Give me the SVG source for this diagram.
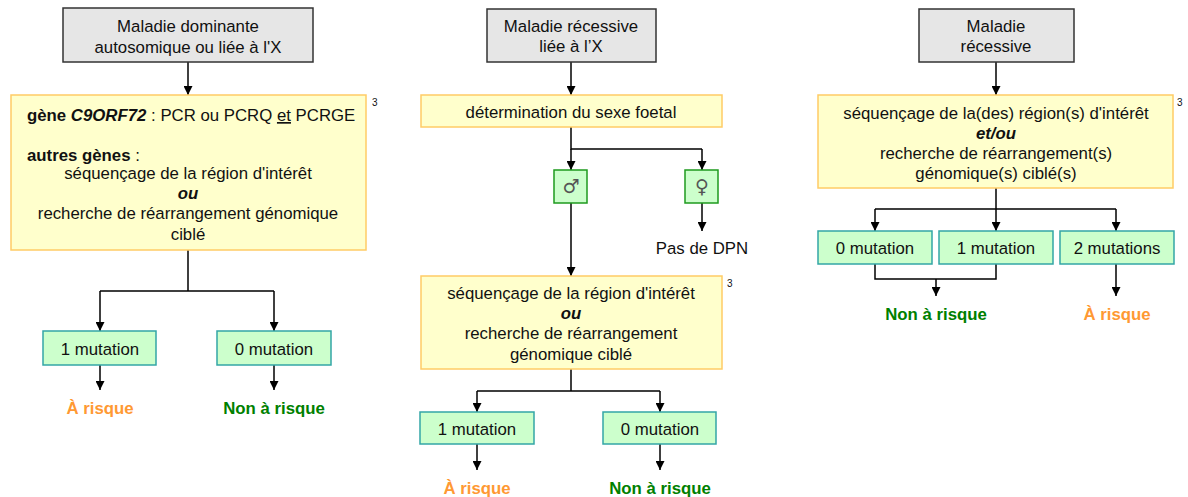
<svg xmlns="http://www.w3.org/2000/svg" width="1188" height="497" viewBox="0 0 1188 497">
<defs>
<marker id="ah" viewBox="0 0 10 10" refX="10" refY="5" markerWidth="9" markerHeight="9" markerUnits="userSpaceOnUse" orient="auto">
<path d="M0,0 L10,5 L0,10 z" fill="#000"/>
</marker>
<style>
text{font-family:"Liberation Sans",Arial,sans-serif;font-size:16.8px;fill:#111;}
.c{text-anchor:middle;}
.b{font-weight:bold;}
.bi{font-weight:bold;font-style:italic;}
.sup{font-size:10px;}
.gray{fill:#E6E6E6;stroke:#333;stroke-width:1.5;}
.yel{fill:#FFFFCC;stroke:#FFCC66;stroke-width:1.5;}
.mut{fill:#CCFFCC;stroke:#33A6A6;stroke-width:1.5;}
.sex{fill:#CCFFCC;stroke:#1E9A1E;stroke-width:1.5;}
.risk{fill:#FF9933;font-weight:bold;}
.safe{fill:#008000;font-weight:bold;}
.sym{fill:#555;font-family:"DejaVu Sans",sans-serif;font-size:19px;}
.ln{fill:none;stroke:#000;stroke-width:1.5;}
.ar{fill:none;stroke:#000;stroke-width:1.5;marker-end:url(#ah);}
</style>
</defs>
<rect width="1188" height="497" fill="#fff"/>

<g id="connectors">
<!-- left -->
<path class="ar" d="M188,62 V95"/>
<path class="ln" d="M188,250 V291 M100,291 H274"/>
<path class="ar" d="M100,291 V331"/>
<path class="ar" d="M274,291 V331"/>
<path class="ar" d="M100,365 V390"/>
<path class="ar" d="M274,365 V390"/>
<!-- middle -->
<path class="ar" d="M571,62 V95"/>
<path class="ln" d="M571,127 V149 H702"/>
<path class="ar" d="M571,149 V170"/>
<path class="ar" d="M702,149 V170"/>
<path class="ar" d="M702,203 V231"/>
<path class="ar" d="M571,203 V276"/>
<path class="ln" d="M571,369 V391 M477,391 H660"/>
<path class="ar" d="M477,391 V412"/>
<path class="ar" d="M660,391 V412"/>
<path class="ar" d="M477,444 V470"/>
<path class="ar" d="M660,444 V470"/>
<!-- right -->
<path class="ar" d="M996,62 V95"/>
<path class="ln" d="M996,188 V209 M875,209 H1116"/>
<path class="ar" d="M875,209 V231"/>
<path class="ar" d="M996,209 V231"/>
<path class="ar" d="M1116,209 V231"/>
<path class="ln" d="M875,264 V279 H996 V264"/>
<path class="ar" d="M936,279 V296"/>
<path class="ar" d="M1116,264 V296"/>
</g>

<!-- LEFT COLUMN -->
<g id="n-dominante">
<rect class="gray" x="63" y="8" width="250" height="54"/>
<text class="c" x="188" y="32">Maladie dominante</text>
<text class="c" x="188" y="53">autosomique ou liée à l'X</text>
</g>
<g id="n-left-tests">
<rect class="yel" x="11" y="95" width="355" height="155"/>
<text x="27" y="121"><tspan class="b">gène </tspan><tspan class="bi">C9ORF72</tspan> : PCR ou PCRQ <tspan text-decoration="underline">et</tspan> PCRGE</text>
<text x="27" y="161"><tspan class="b">autres gènes</tspan> :</text>
<text class="c" x="188" y="179">séquençage de la région d'intérêt</text>
<text class="c bi" x="188" y="199">ou</text>
<text class="c" x="188" y="219">recherche de réarrangement génomique</text>
<text class="c" x="188" y="240">ciblé</text>
<text class="sup" x="372" y="106">3</text>
</g>
<g id="n-left-1mut">
<rect class="mut" x="43" y="331" width="113" height="34"/>
<text class="c" x="100" y="355">1 mutation</text>
</g>
<g id="n-left-0mut">
<rect class="mut" x="217" y="331" width="114" height="34"/>
<text class="c" x="274" y="355">0 mutation</text>
</g>
<g id="n-left-risk">
<text class="c risk" x="100" y="414">À risque</text>
</g>
<g id="n-left-safe">
<text class="c safe" x="274" y="414">Non à risque</text>
</g>

<!-- MIDDLE COLUMN -->
<g id="n-recessive-x">
<rect class="gray" x="487" y="9" width="169" height="53"/>
<text class="c" x="571" y="32">Maladie récessive</text>
<text class="c" x="571" y="52">liée à l’X</text>
</g>
<g id="n-sexe">
<rect class="yel" x="421" y="95" width="301" height="32"/>
<text class="c" x="571" y="118">détermination du sexe foetal</text>
</g>
<g id="n-male">
<rect class="sex" x="554" y="170" width="33" height="33"/>
<text class="c sym" x="571" y="193">♂</text>
</g>
<g id="n-female">
<rect class="sex" x="685" y="170" width="33" height="33"/>
<text class="c sym" x="702" y="193">♀</text>
</g>
<g id="n-pasdpn">
<text class="c" x="702" y="254">Pas de DPN</text>
</g>
<g id="n-mid-tests">
<rect class="yel" x="421" y="276" width="301" height="93"/>
<text class="c" x="571" y="299">séquençage de la région d'intérêt</text>
<text class="c bi" x="571" y="319">ou</text>
<text class="c" x="571" y="339">recherche de réarrangement</text>
<text class="c" x="571" y="360">génomique ciblé</text>
<text class="sup" x="727" y="287">3</text>
</g>
<g id="n-mid-1mut">
<rect class="mut" x="420" y="412" width="114" height="32"/>
<text class="c" x="477" y="435">1 mutation</text>
</g>
<g id="n-mid-0mut">
<rect class="mut" x="603" y="412" width="113" height="32"/>
<text class="c" x="660" y="435">0 mutation</text>
</g>
<g id="n-mid-risk">
<text class="c risk" x="477" y="494">À risque</text>
</g>
<g id="n-mid-safe">
<text class="c safe" x="660" y="494">Non à risque</text>
</g>

<!-- RIGHT COLUMN -->
<g id="n-recessive">
<rect class="gray" x="919" y="9" width="155" height="53"/>
<text class="c" x="996" y="32">Maladie</text>
<text class="c" x="996" y="52">récessive</text>
</g>
<g id="n-right-tests">
<rect class="yel" x="818" y="95" width="355" height="93"/>
<text class="c" x="996" y="119">séquençage de la(des) région(s) d'intérêt</text>
<text class="c bi" x="996" y="139">et/ou</text>
<text class="c" x="996" y="159">recherche de réarrangement(s)</text>
<text class="c" x="996" y="179">génomique(s) ciblé(s)</text>
<text class="sup" x="1177" y="106">3</text>
</g>
<g id="n-right-0mut">
<rect class="mut" x="818" y="231" width="114" height="33"/>
<text class="c" x="875" y="254">0 mutation</text>
</g>
<g id="n-right-1mut">
<rect class="mut" x="939" y="231" width="114" height="33"/>
<text class="c" x="996" y="254">1 mutation</text>
</g>
<g id="n-right-2mut">
<rect class="mut" x="1060" y="231" width="114" height="33"/>
<text class="c" x="1117" y="254">2 mutations</text>
</g>
<g id="n-right-safe">
<text class="c safe" x="936" y="320">Non à risque</text>
</g>
<g id="n-right-risk">
<text class="c risk" x="1117" y="320">À risque</text>
</g>
</svg>
